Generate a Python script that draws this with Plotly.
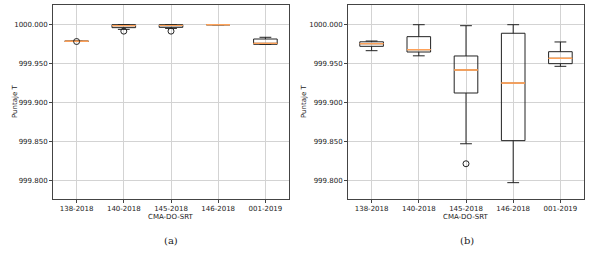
import plotly.graph_objects as go

cats = ["138-2018", "140-2018", "145-2018", "146-2018", "001-2019"]

# Panel (a)
a_lo = [999.9787, 999.9940, 999.9952, 1000.000, 999.9748]
a_q1 = [999.9787, 999.9962, 999.9966, 1000.000, 999.9748]
a_med = [999.9787, 999.9988, 999.9990, 1000.000, 999.9760]
a_q3 = [999.9787, 1000.000, 1000.000, 1000.000, 999.9816]
a_hi = [999.9787, 1000.000, 1000.000, 1000.000, 999.9838]
a_out_x = ["138-2018", "140-2018", "145-2018"]
a_out_y = [999.9784, 999.9917, 999.9917]

# Panel (b)
b_lo = [999.9666, 999.9600, 999.8470, 999.7970, 999.9465]
b_q1 = [999.9722, 999.9649, 999.9122, 999.8510, 999.9499]
b_med = [999.9756, 999.9679, 999.9418, 999.9250, 999.9568]
b_q3 = [999.9780, 999.9846, 999.9598, 999.9890, 999.9653]
b_hi = [999.9790, 1000.000, 999.9987, 1000.000, 999.9778]
b_out_x = ["145-2018"]
b_out_y = [999.8213]

tickvals = [999.80, 999.85, 999.90, 999.95, 1000.00]
yrange = [999.776, 1000.0253]

fig = go.Figure()

def add_panel(xa, ya, lo, q1, med, q3, hi, ox, oy):
    fig.add_trace(go.Box(
        x=cats, q1=q1, median=med, q3=q3, lowerfence=lo, upperfence=hi,
        xaxis=xa, yaxis=ya, width=0.5, whiskerwidth=0.5,
        line=dict(color="#222222", width=1), fillcolor="rgba(0,0,0,0)",
        boxpoints=False, showlegend=False, hoverinfo="skip"))
    fig.add_trace(go.Box(
        x=cats, q1=med, median=med, q3=med, lowerfence=med, upperfence=med,
        xaxis=xa, yaxis=ya, width=0.5, whiskerwidth=0,
        line=dict(color="#ffa35a", width=1), fillcolor="rgba(0,0,0,0)",
        boxpoints=False, showlegend=False, hoverinfo="skip"))
    fig.add_trace(go.Scatter(
        x=ox, y=oy, mode="markers", xaxis=xa, yaxis=ya,
        marker=dict(symbol="circle-open", size=6, color="#222222", line=dict(width=1)),
        showlegend=False, hoverinfo="skip"))

add_panel("x", "y", a_lo, a_q1, a_med, a_q3, a_hi, a_out_x, a_out_y)
add_panel("x2", "y2", b_lo, b_q1, b_med, b_q3, b_hi, b_out_x, b_out_y)

tickfont = dict(family="DejaVu Sans", size=7, color="#222222")
xcommon = dict(type="category", categoryorder="array", categoryarray=cats,
               range=[-0.5, 4.5], showgrid=True, gridcolor="#d3d3d3", gridwidth=1,
               showline=True, linecolor="#444444", linewidth=1, mirror=True,
               ticks="outside", ticklen=3, tickcolor="#444444", tickfont=tickfont,
               zeroline=False, fixedrange=True, automargin=False)
ycommon = dict(range=yrange, tickvals=tickvals, tickformat=".3f",
               showgrid=True, gridcolor="#d3d3d3", gridwidth=1,
               showline=True, linecolor="#444444", linewidth=1, mirror=True,
               ticks="outside", ticklen=3, tickcolor="#444444", tickfont=tickfont,
               zeroline=False, fixedrange=True, automargin=False)

fig.update_layout(
    width=590, height=255, margin=dict(l=0, r=0, t=0, b=0),
    paper_bgcolor="white", plot_bgcolor="white", boxmode="overlay",
    xaxis=dict(domain=[53/590, 289/590], anchor="y", **xcommon),
    yaxis=dict(domain=[1-199/255, 1-5/255], anchor="x", **ycommon),
    xaxis2=dict(domain=[348/590, 584/590], anchor="y2", **xcommon),
    yaxis2=dict(domain=[1-199/255, 1-5/255], anchor="x2", **ycommon),
)

lab = dict(family="DejaVu Sans", size=7, color="#222222")
serif = dict(family="DejaVu Serif", size=10, color="#222222")
anns = [
    dict(text="Puntaje T", x=15/590, y=1-102/255, textangle=-90, font=lab),
    dict(text="Puntaje T", x=304/590, y=1-102/255, textangle=-90, font=lab),
    dict(text="CMA-DO-SRT", x=171/590, y=1-217/255, font=lab),
    dict(text="CMA-DO-SRT", x=466/590, y=1-217/255, font=lab),
    dict(text="(a)", x=171/590, y=1-240/255, font=serif),
    dict(text="(b)", x=467/590, y=1-240/255, font=serif),
]
for a in anns:
    fig.add_annotation(xref="paper", yref="paper", showarrow=False,
                       xanchor="center", yanchor="middle", **a)

fig.write_html("out.html", config={"displayModeBar": False},
               post_script="document.body.style.margin='0';document.body.style.padding='0';")
